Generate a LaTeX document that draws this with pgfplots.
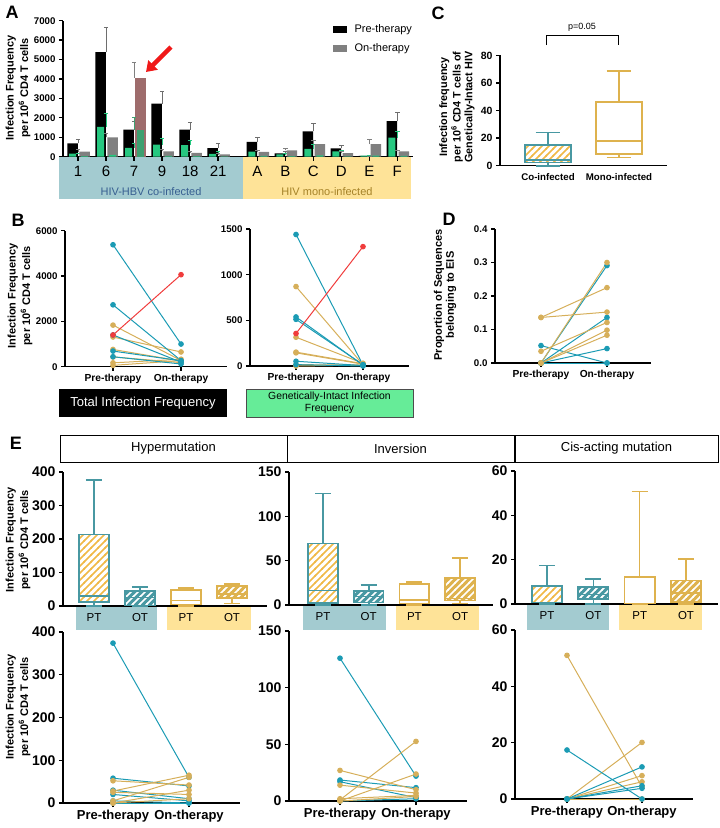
\documentclass[border=0pt]{standalone}
\usepackage{fontspec}
\setmainfont{Liberation Sans}
\usepackage{pgfplots}
\pgfplotsset{compat=1.18}
\usetikzlibrary{patterns,arrows.meta}

\definecolor{tl}{RGB}{27,155,180}
\definecolor{gd}{RGB}{214,175,90}
\definecolor{rd}{RGB}{240,60,60}
\definecolor{tb}{RGB}{72,152,162}
\definecolor{gb}{RGB}{222,178,78}
\definecolor{hy}{RGB}{240,185,70}
\definecolor{bandT}{RGB}{163,203,208}
\definecolor{bandY}{RGB}{254,227,152}
\definecolor{grn}{RGB}{38,200,128}
\definecolor{gry}{RGB}{128,128,128}
\definecolor{errg}{RGB}{110,110,110}
\definecolor{mauve}{RGB}{158,108,108}
\definecolor{grn2}{RGB}{62,160,112}
\definecolor{gbox}{RGB}{102,236,152}
\definecolor{coTxt}{RGB}{55,95,145}
\definecolor{monoTxt}{RGB}{165,130,40}
\definecolor{arrowR}{RGB}{240,25,25}

\pgfdeclarepatternformonly{hl}{\pgfqpoint{-1pt}{-1pt}}{\pgfqpoint{8pt}{8pt}}{\pgfqpoint{7pt}{7pt}}{%
  \pgfsetlinewidth{1.6pt}%
  \pgfpathmoveto{\pgfqpoint{-1pt}{-1pt}}\pgfpathlineto{\pgfqpoint{8pt}{8pt}}%
  \pgfusepath{stroke}}

\newcommand{\fs}[1]{\fontsize{#1}{#1}\selectfont}
\newcommand{\pl}[3]{\addplot[#1,line width=1pt,mark=*,mark size=2.3pt,mark options={solid,fill=#1}] coordinates {(0,#2) (1,#3)};}
% box: style, colour, position, low whisker, q1, median, q3, high whisker
\newcommand{\bx}[8]{%
  \pgfmathsetmacro\xa{#3-0.325}\pgfmathsetmacro\xb{#3+0.325}%
  \pgfmathsetmacro\ca{#3-0.175}\pgfmathsetmacro\cb{#3+0.175}%
  \addplot[#2,line width=1.6pt] coordinates {(#3,#4) (#3,#5)};
  \addplot[#2,line width=1.6pt] coordinates {(\ca,#4) (\cb,#4)};
  \addplot[#2,line width=1.6pt] coordinates {(#3,#7) (#3,#8)};
  \addplot[#2,line width=1.6pt] coordinates {(\ca,#8) (\cb,#8)};
  \addplot[#1,line width=1.6pt] coordinates {(\xa,#5) (\xb,#5) (\xb,#7) (\xa,#7)} -- cycle;
  \addplot[#2,line width=1.6pt] coordinates {(\xa,#6) (\xb,#6)};}

\pgfplotsset{
  gp/.style={scale only axis, anchor=south west, axis lines=left,
    axis line style={-,line width=1.3pt}, tick align=outside,
    major tick length=4pt, tick style={line width=1.3pt,black},
    ticklabel style={font=\bfseries\fs{9.7}},
    /pgf/number format/assume math mode=true,
    /pgf/number format/1000 sep={}, scaled ticks=false, clip=false},
  pp/.style={gp, xtick={0,1}, xticklabels={Pre-therapy,On-therapy}},
  bCoPT/.style={draw=tb, fill=white, postaction={pattern=hl, pattern color=hy}},
  bCoOT/.style={draw=tb, fill=tb, postaction={pattern=hl, pattern color=white}},
  bMoPT/.style={draw=gb, fill=white},
  bMoOT/.style={draw=gb, fill=gb, postaction={pattern=hl, pattern color=white}},
  ebar/.style={error bars/.cd, y dir=plus, y explicit,
    error bar style={line width=0.8pt,#1},
    error mark options={rotate=90,line width=0.8pt,#1,mark size=2.2pt}},
}

\begin{document}
\begin{tikzpicture}[x=1pt,y=1pt]
\useasboundingbox (0,0) rectangle (720,-828);

% ---------------- A
\node[font=\bfseries\fs{18}] at (12,-12) {A};
\fill[bandT] (59,-157) rectangle (243,-199);
\fill[bandY] (243,-157) rectangle (411,-199);
\node[text=coTxt,font=\fs{11}] at (151,-192) {HIV-HBV co-infected};
\node[text=monoTxt,font=\fs{11}] at (327,-192) {HIV mono-infected};
\node[rotate=90,align=center,font=\bfseries\fs{11}] at (18,-88) {Infection Frequency\\[2pt]per 10\textsuperscript{6} CD4 T cells};

\begin{axis}[gp, at={(63pt,-156.7pt)}, width=350pt, height=136pt,
  xmin=-0.54, xmax=11.96, ymin=0, ymax=7000, ytick={0,1000,...,7000},
  xtick={0,1,2,3,4,5,6.4,7.4,8.4,9.4,10.4,11.4},
  xticklabels={1,6,7,9,18,21,A,B,C,D,E,F},
  xticklabel style={font=\fs{15}, yshift=-2pt}]
\addplot[ybar, bar width=10.5pt, bar shift=-5.5pt, fill=black, draw=none, ebar=errg] coordinates {
 (0,690) +- (0,200) (1,5380) +- (0,1270) (2,1400) +- (0,400) (3,2730) +- (0,630)
 (4,1400) +- (0,360) (5,440) +- (0,230) (6.4,760) +- (0,240) (7.4,170) +- (0,80)
 (8.4,1310) +- (0,410) (9.4,430) +- (0,130) (10.4,40) +- (0,0) (11.4,1835) +- (0,445)};
\addplot[ybar, bar width=7pt, bar shift=-5.5pt, fill=grn, draw=none, ebar=grn] coordinates {
 (0,160) +- (0,30) (1,1530) +- (0,700) (2,450) +- (0,250) (3,620) +- (0,330)
 (4,590) +- (0,250) (5,150) +- (0,120) (6.4,260) +- (0,70) (7.4,120) +- (0,40)
 (8.4,400) +- (0,240) (9.4,280) +- (0,40) (10.4,60) +- (0,10) (11.4,980) +- (0,340)};
\addplot[ybar, bar width=10.5pt, bar shift=6.5pt, fill=gry, draw=none, ebar=gry] coordinates {
 (0,260) +- (0,117) (1,1000) +- (0,190) (3,270) +- (0,100) (4,200) +- (0,80)
 (5,120) +- (0,40) (6.4,250) +- (0,80) (7.4,330) +- (0,90) (8.4,650) +- (0,173)
 (9.4,180) +- (0,90) (10.4,650) +- (0,240) (11.4,274) +- (0,69)};
\addplot[ybar, bar width=10.5pt, bar shift=6.5pt, fill=mauve, draw=none, ebar=gry] coordinates {(2,4060) +- (0,810)};
\addplot[ybar, bar width=7pt, bar shift=6.5pt, fill=grn, draw=none] coordinates {
 (0,30) (1,90) (3,40) (4,30) (5,20) (6.4,40) (7.4,30) (8.4,70) (9.4,20) (10.4,60) (11.4,40)};
\addplot[ybar, bar width=7pt, bar shift=6.5pt, fill=grn2, draw=none, ebar=grn2] coordinates {(2,1400) +- (0,620)};
\end{axis}
\fill[black] (333,-26) rectangle (347,-33);
\node[anchor=west,font=\fs{11}] at (351,-29.5) {Pre-therapy};
\fill[gry] (333,-45) rectangle (347,-52);
\node[anchor=west,font=\fs{11}] at (351,-48.5) {On-therapy};
\draw[arrowR, line width=4.5pt, -{Triangle[length=10pt,width=13pt]}] (171,-47) -- (146,-72);

% ---------------- B
\node[font=\bfseries\fs{18}] at (18,-220) {B};
\node[rotate=90,align=center,font=\bfseries\fs{11}] at (20,-296) {Infection Frequency\\[2pt]per 10\textsuperscript{6} CD4 T cells};
\begin{axis}[pp, at={(65pt,-366.7pt)}, width=162pt, height=136pt,
  xmin=-0.706, xmax=1.676, ymin=0, ymax=6000, ytick={0,2000,4000,6000},
  xticklabel style={font=\bfseries\fs{10.2}}]
\pl{gd}{760}{250}\pl{gd}{170}{330}\pl{gd}{1310}{650}\pl{gd}{430}{180}\pl{gd}{60}{270}\pl{gd}{1835}{274}
\pl{tl}{690}{260}\pl{tl}{5380}{1000}\pl{tl}{2730}{270}\pl{tl}{1400}{200}\pl{tl}{440}{120}
\pl{rd}{1400}{4060}
\end{axis}
\begin{axis}[pp, at={(250pt,-366pt)}, width=159pt, height=137pt,
  xmin=-0.687, xmax=1.687, ymin=0, ymax=1500, ytick={0,500,1000,1500},
  xticklabel style={font=\bfseries\fs{10.2}}]
\pl{gd}{144}{20}\pl{gd}{15}{10}\pl{gd}{315}{30}\pl{gd}{152}{25}\pl{gd}{0}{10}\pl{gd}{870}{15}
\pl{tl}{1440}{10}\pl{tl}{52}{5}\pl{tl}{537}{10}\pl{tl}{511}{15}\pl{tl}{15}{0}
\pl{rd}{356}{1307}
\end{axis}
\fill[black] (59,-389) rectangle (227,-417);
\node[white,font=\fs{13}] at (143,-403) {Total Infection Frequency};
\filldraw[fill=gbox, draw=black!70, line width=0.8pt] (246,-389) rectangle (413,-417);
\node[align=center,font=\fs{10.4}] at (329.5,-403) {Genetically-Intact Infection\\[1pt]Frequency};

% ---------------- C
\node[font=\bfseries\fs{18}] at (438,-13) {C};
\node[rotate=90,align=center,font=\bfseries\fs{10.8}] at (457,-107) {Infection frequency\\[1pt]per 10\textsuperscript{6} CD4 T cells of\\[1pt]Genetically-Intact HIV};
\begin{axis}[gp, at={(500pt,-165.7pt)}, width=167pt, height=110.3pt,
  xmin=-0.676, xmax=1.676, ymin=0, ymax=80, ytick={0,20,...,80},
  ticklabel style={font=\bfseries\fs{10.5}},
  xtick={0,1}, xticklabels={Co-infected,Mono-infected}, x tick style={draw=none},
  xticklabel style={font=\bfseries\fs{9.7}}]
\bx{bCoPT}{tb}{0}{0}{2.4}{4.1}{14.9}{24.1}
\bx{bMoPT}{gb}{1}{6}{8.4}{18.1}{46.3}{68.7}
\end{axis}
\draw[line width=1pt] (546,-45) -- (546,-35) -- (618,-35) -- (618,-45);
\node[font=\fs{9}] at (582,-27) {p=0.05};

% ---------------- D
\node[font=\bfseries\fs{18}] at (449,-219) {D};
\node[rotate=90,align=center,font=\bfseries\fs{11}] at (445,-295) {Proportion of Sequences\\[1pt]belonging to EIS};
\begin{axis}[pp, at={(495pt,-363pt)}, width=156pt, height=134pt,
  xmin=-0.697, xmax=1.667, ymin=0, ymax=0.4, ytick={0,0.1,...,0.4},
  yticklabel style={/pgf/number format/.cd, fixed, fixed zerofill, precision=1},
  xticklabel style={font=\bfseries\fs{10.2}}]
\pl{tl}{0.052}{0}\pl{tl}{0}{0.291}\pl{tl}{0}{0.136}\pl{tl}{0}{0.043}\pl{tl}{0}{0}
\pl{gd}{0.136}{0.225}\pl{gd}{0.136}{0.152}\pl{gd}{0.035}{0.121}\pl{gd}{0}{0.300}\pl{gd}{0}{0.098}\pl{gd}{0}{0.083}
\end{axis}

% ---------------- E
\node[font=\bfseries\fs{18}] at (16,-443) {E};
\draw[line width=0.8pt] (60,-435) rectangle (287,-462);
\draw[line width=0.8pt] (287,-435) rectangle (514,-462);
\draw[line width=0.8pt] (515,-435) rectangle (718,-462);
\node[font=\fs{13}] at (173.5,-448.5) {Hypermutation};
\node[font=\fs{13}] at (400.5,-448.5) {Inversion};
\node[font=\fs{13}] at (616.5,-448.5) {Cis-acting mutation};
\node[rotate=90,align=center,font=\bfseries\fs{11}] at (18,-540) {Infection Frequency\\[2pt]per 10\textsuperscript{6} CD4 T cells};
\node[rotate=90,align=center,font=\bfseries\fs{11}] at (18,-707) {Infection Frequency\\[2pt]per 10\textsuperscript{6} CD4 T cells};

\fill[bandT] (76,-606) rectangle (157,-630);  \fill[bandY] (167,-606) rectangle (251,-630);
\fill[bandT] (303,-605) rectangle (386,-630); \fill[bandY] (396,-605) rectangle (479,-630);
\fill[bandT] (527,-604) rectangle (609,-630); \fill[bandY] (619,-604) rectangle (702,-630);

\pgfplotsset{etop/.style={gp, ticklabel style={font=\bfseries\fs{14}},
  xtick={1,2,3,4}, xticklabels={PT,OT,PT,OT}, x tick style={draw=none},
  xticklabel style={font=\fs{11.5}}}}

\begin{axis}[etop, at={(63pt,-606pt)}, width=204pt, height=134pt,
  xmin=0.326, xmax=4.76, ymin=0, ymax=400, ytick={0,100,...,400}]
\bx{bCoPT}{tb}{1}{0}{12}{30}{214}{377}
\bx{bCoOT}{tb}{2}{0}{2}{25}{45}{57}
\bx{bMoPT}{gb}{3}{0}{4}{17}{47}{53}
\bx{bMoOT}{gb}{4}{7}{24}{35}{60}{65}
\end{axis}
\begin{axis}[etop, at={(289pt,-605pt)}, width=204pt, height=133pt,
  xmin=0.256, xmax=4.72, ymin=0, ymax=150, ytick={0,50,100,150}]
\bx{bCoPT}{tb}{1}{0}{2.6}{16.5}{69.4}{125.6}
\bx{bCoOT}{tb}{2}{0}{3}{9.4}{15.7}{22.5}
\bx{bMoPT}{gb}{3}{0}{1.9}{5.6}{24}{26}
\bx{bMoOT}{gb}{4}{1.9}{4.9}{7.5}{30.7}{53.2}
\end{axis}
\begin{axis}[etop, at={(515pt,-604pt)}, width=203pt, height=133pt,
  xmin=0.309, xmax=4.69, ymin=0, ymax=60, ytick={0,20,40,60}]
\bx{bCoPT}{tb}{1}{0}{0.7}{0.7}{8.2}{17.4}
\bx{bCoOT}{tb}{2}{0}{2.3}{4.2}{7.6}{11.4}
\bx{bMoPT}{gb}{3}{0}{0.2}{0.2}{12.3}{50.8}
\bx{bMoOT}{gb}{4}{0}{0.9}{4.9}{10.6}{20.4}
\end{axis}

\pgfplotsset{ebot/.style={pp, ticklabel style={font=\bfseries\fs{14}},
  xticklabel style={font=\bfseries\fs{13}}}}
\begin{axis}[ebot, at={(63pt,-803pt)}, width=177pt, height=171pt,
  xmin=-0.658, xmax=1.671, ymin=0, ymax=400, ytick={0,100,...,400}]
\pl{tl}{374}{60}\pl{tl}{58}{40}\pl{tl}{30}{10}\pl{tl}{20}{5}\pl{tl}{0}{0}\pl{tl}{5}{0}
\pl{gd}{52}{42}\pl{gd}{28}{65}\pl{gd}{25}{20}\pl{gd}{5}{60}\pl{gd}{0}{30}\pl{gd}{0}{10}
\end{axis}
\begin{axis}[ebot, at={(289pt,-801pt)}, width=178pt, height=170pt,
  xmin=-0.671, xmax=1.671, ymin=0, ymax=150, ytick={0,50,100,150}]
\pl{tl}{126}{22}\pl{tl}{18.5}{11.8}\pl{tl}{17}{3}\pl{tl}{0}{2}
\pl{gd}{27}{10}\pl{gd}{14}{7}\pl{gd}{1}{52.6}\pl{gd}{0}{23.8}\pl{gd}{0}{4}\pl{gd}{2}{5}
\end{axis}
\begin{axis}[ebot, at={(515pt,-799pt)}, width=178pt, height=169pt,
  xmin=-0.693, xmax=1.68, ymin=0, ymax=60, ytick={0,20,40,60}]
\pl{gd}{51}{4.3}\pl{gd}{0}{20.1}\pl{gd}{0}{8.3}\pl{gd}{0}{6.1}\pl{gd}{0}{0}
\pl{tl}{17.4}{0}\pl{tl}{0}{11.4}\pl{tl}{0}{4.7}\pl{tl}{0}{3.8}
\end{axis}
\end{tikzpicture}
\end{document}
